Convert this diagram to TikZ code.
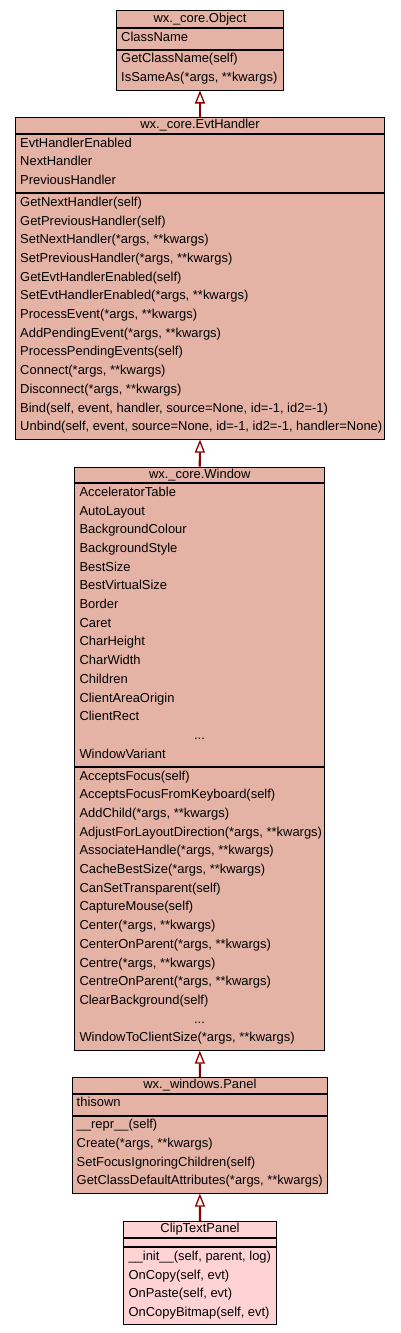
\documentclass[tikz,border=0pt]{standalone}
\usepackage{fontspec}
\setmainfont{Liberation Sans}
\usetikzlibrary{arrows.meta,calc}
\definecolor{clsfill}{RGB}{228,179,165}
\definecolor{leaffill}{RGB}{255,211,211}
\definecolor{inhcol}{RGB}{139,0,0}
\newcommand\umlfont{\fontsize{12.95}{15}\selectfont}
\newcommand\umllines[2]{%
  \foreach \t [count=\i] in {#2} {%
    \node[txt] (#1-\i) at ($(#1.north west)+(5,{13+(\i-1)*18.7})$) {\t};}}
\newcommand\wdots{\makebox[240pt][c]{...}}
\tikzset{
  sec/.style={draw=black, line width=1pt, inner sep=0pt, anchor=north west},
  ttl/.style={sec, font=\umlfont, text height=9.2pt, text depth=2.6pt},
  txt/.style={inner sep=0pt, anchor=base west, font=\umlfont},
  inh/.style={draw=inhcol, line width=2.2pt,
    -{Triangle[length=13pt, width=10pt, line width=1.3pt, fill=white]}},
}
\begin{document}
\begin{tikzpicture}[x=1pt,y=-1pt]
\useasboundingbox[fill=white] (0,0) rectangle (400,1333);

% wx._core.Object
\node[ttl, fill=clsfill, minimum width=167pt, minimum height=17pt] (objT) at (116,10) {wx.\_core.Object};
\node[sec, fill=clsfill, minimum width=167pt, minimum height=20.9pt] (objA) at (objT.south west) {};
\node[sec, fill=clsfill, minimum width=167pt, minimum height=39.6pt] (objM) at (objA.south west) {};
\umllines{objA}{ClassName}
\umllines{objM}{{GetClassName(self)},{IsSameAs(*args, **kwargs)}}

% wx._core.EvtHandler
\node[ttl, fill=clsfill, minimum width=369pt, minimum height=16.3pt] (evtT) at (15,116.7) {wx.\_core.EvtHandler};
\node[sec, fill=clsfill, minimum width=369pt, minimum height=58.3pt] (evtA) at (evtT.south west) {};
\node[sec, fill=clsfill, minimum width=369pt, minimum height=245.3pt] (evtM) at (evtA.south west) {};
\umllines{evtA}{EvtHandlerEnabled,NextHandler,PreviousHandler}
\umllines{evtM}{{GetNextHandler(self)},{GetPreviousHandler(self)},{SetNextHandler(*args, **kwargs)},{SetPreviousHandler(*args, **kwargs)},{GetEvtHandlerEnabled(self)},{SetEvtHandlerEnabled(*args, **kwargs)},{ProcessEvent(*args, **kwargs)},{AddPendingEvent(*args, **kwargs)},{ProcessPendingEvents(self)},{Connect(*args, **kwargs)},{Disconnect(*args, **kwargs)},{Bind(self, event, handler, source=None, id=-1, id2=-1)},{Unbind(self, event, source=None, id=-1, id2=-1, handler=None)}}

% wx._core.Window
\node[ttl, fill=clsfill, minimum width=250pt, minimum height=15.6pt] (winT) at (74.3,466.7) {wx.\_core.Window};
\node[sec, fill=clsfill, minimum width=250pt, minimum height=282.7pt] (winA) at (winT.south west) {};
\node[sec, fill=clsfill, minimum width=250pt, minimum height=282.7pt] (winM) at (winA.south west) {};
\umllines{winA}{AcceleratorTable,AutoLayout,BackgroundColour,BackgroundStyle,BestSize,BestVirtualSize,Border,Caret,CharHeight,CharWidth,Children,ClientAreaOrigin,ClientRect,\wdots,WindowVariant}
\umllines{winM}{{AcceptsFocus(self)},{AcceptsFocusFromKeyboard(self)},{AddChild(*args, **kwargs)},{AdjustForLayoutDirection(*args, **kwargs)},{AssociateHandle(*args, **kwargs)},{CacheBestSize(*args, **kwargs)},{CanSetTransparent(self)},{CaptureMouse(self)},{Center(*args, **kwargs)},{CenterOnParent(*args, **kwargs)},{Centre(*args, **kwargs)},{CentreOnParent(*args, **kwargs)},{ClearBackground(self)},\wdots,{WindowToClientSize(*args, **kwargs)}}

% wx._windows.Panel
\node[ttl, fill=clsfill, minimum width=255.8pt, minimum height=15.4pt] (panT) at (71.5,1077.3) {wx.\_windows.Panel};
\node[sec, fill=clsfill, minimum width=255.8pt, minimum height=20.9pt] (panA) at (panT.south west) {};
\node[sec, fill=clsfill, minimum width=255.8pt, minimum height=77pt] (panM) at (panA.south west) {};
\umllines{panA}{thisown}
\umllines{panM}{{\_\_repr\_\_(self)},{Create(*args, **kwargs)},{SetFocusIgnoringChildren(self)},{GetClassDefaultAttributes(*args, **kwargs)}}

% ClipTextPanel
\node[ttl, fill=leaffill, minimum width=152.4pt, minimum height=15.7pt] (clpT) at (123.3,1221) {ClipTextPanel};
\node[sec, fill=leaffill, minimum width=152.4pt, minimum height=8.6pt] (clpA) at (clpT.south west) {};
\node[sec, fill=leaffill, minimum width=152.4pt, minimum height=77pt] (clpM) at (clpA.south west) {};
\umllines{clpM}{{\_\_init\_\_(self, parent, log)},{OnCopy(self, evt)},{OnPaste(self, evt)},{OnCopyBitmap(self, evt)}}

% inheritance
\draw[inh] (evtT.north) -- (objM.south);
\draw[inh] (winT.north) -- (evtM.south);
\draw[inh] (panT.north) -- (winM.south);
\draw[inh] (clpT.north) -- (panM.south);
\end{tikzpicture}
\end{document}
